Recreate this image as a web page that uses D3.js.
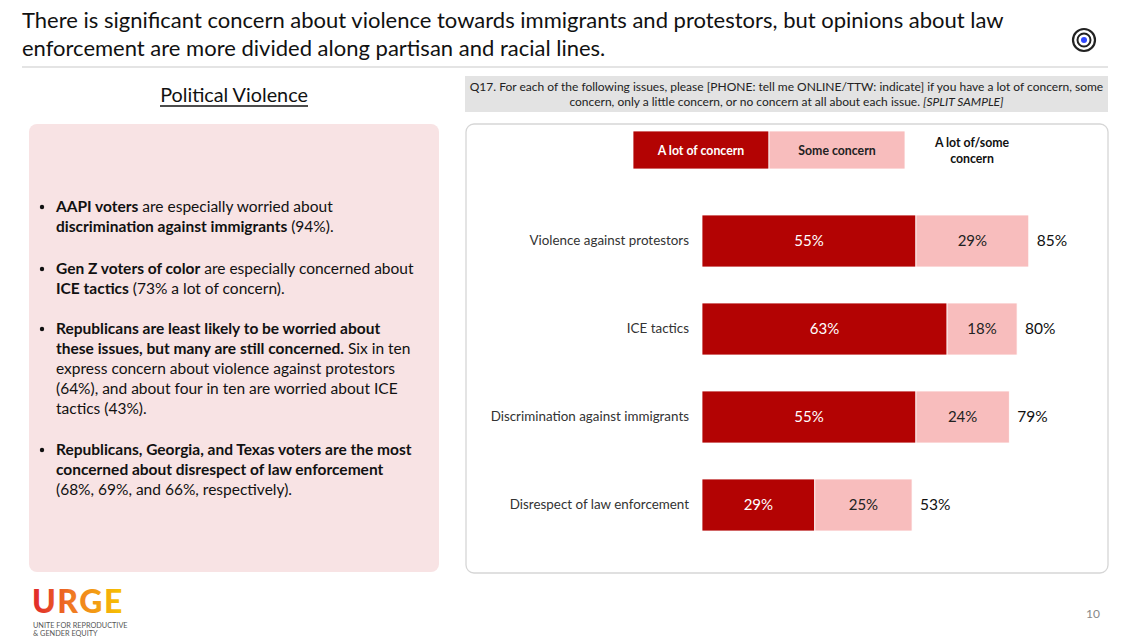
<!DOCTYPE html>
<html>
<head>
<meta charset="utf-8">
<script src="https://cdn.jsdelivr.net/npm/d3@7"></script>
<style>
  html, body { margin: 0; padding: 0; background: #fff; }
  svg { display: block; font-family: Lato, "Open Sans", sans-serif; }
</style>
</head>
<body>
<svg id="chart" width="1140" height="641"></svg>
<script>
// chart values
var categories = ['Violence against protestors', 'ICE tactics', 'Discrimination against immigrants', 'Disrespect of law enforcement']
var aLotOfConcern = [55, 63, 55, 29]
var someConcern = [29, 18, 24, 25]
var totalConcern = [85, 80, 79, 53]
var seriesNames = ['A lot of concern', 'Some concern']
var totalName = ['A lot of/some', 'concern']

var titleLines = [
	'There is significant concern about violence towards immigrants and protestors, but opinions about law',
	'enforcement are more divided along partisan and racial lines.'
]
var questionLines = [
	[['Q17. For each of the following issues, please [PHONE: tell me ONLINE/TTW: indicate] if you have a lot of concern, some', false]],
	[['concern, only a little concern, or no concern at all about each issue. ', false], ['[SPLIT SAMPLE]', true]]
]
// bullet text: each line is a list of [text, bold]
var bullets = [
	[
		[['AAPI voters', 1], [' are especially worried about', 0]],
		[['discrimination against immigrants', 1], [' (94%).', 0]]
	],
	[
		[['Gen Z voters of color', 1], [' are especially concerned about', 0]],
		[['ICE tactics', 1], [' (73% a lot of concern).', 0]]
	],
	[
		[['Republicans are least likely to be worried about', 1]],
		[['these issues, but many are still concerned.', 1], [' Six in ten', 0]],
		[['express concern about violence against protestors', 0]],
		[['(64%), and about four in ten are worried about ICE', 0]],
		[['tactics (43%).', 0]]
	],
	[
		[['Republicans, Georgia, and Texas voters are the most', 1]],
		[['concerned about disrespect of law enforcement', 1]],
		[['(68%, 69%, and 66%, respectively).', 0]]
	]
]

var darkRed = '#b30303'
var lightRed = '#f8bdbd'

var svg = d3.select('#chart')

// ---- header
var title = svg.append('g').attr('id', 'title')
titleLines.forEach((t, i) => {
	title.append('text').text(t)
		.attr('x', 22).attr('y', 28 + i * 28)
		.style('font-size', '22px').style('fill', '#111')
})
svg.append('line')
	.attr('x1', 22).attr('x2', 1108).attr('y1', 67).attr('y2', 67)
	.style('stroke', '#e4e4e4').style('stroke-width', 2)

var target = svg.append('g').attr('transform', 'translate(1084,40)')
target.append('circle').attr('r', 11).style('fill', 'none').style('stroke', '#222').style('stroke-width', 2.2)
target.append('circle').attr('r', 6.5).style('fill', 'none').style('stroke', '#222').style('stroke-width', 2)
target.append('circle').attr('r', 3).style('fill', '#3047ff')

// ---- left panel
var left = svg.append('g').attr('id', 'leftPanel')
left.append('text').text('Political Violence')
	.attr('x', 234).attr('y', 102).attr('text-anchor', 'middle')
	.style('font-size', '19.8px').style('fill', '#111')
left.append('line')
	.attr('x1', 160).attr('x2', 308).attr('y1', 106).attr('y2', 106)
	.style('stroke', '#111').style('stroke-width', 1.3)

left.append('rect')
	.attr('x', 29).attr('y', 124).attr('width', 410).attr('height', 448)
	.attr('rx', 8)
	.style('fill', '#f8e3e4')

var bulletTop = [207, 269, 329, 450]
bullets.forEach((b, bi) => {
	left.append('circle')
		.attr('cx', 42).attr('cy', bulletTop[bi]).attr('r', 2.2)
		.style('fill', '#111')
	b.forEach((line, li) => {
		var t = left.append('text')
			.attr('x', 56).attr('y', bulletTop[bi] + li * 20 + 5)
			.style('font-size', '15.5px').style('fill', '#111')
		line.forEach(seg => {
			t.append('tspan').text(seg[0])
				.style('font-weight', seg[1] ? 700 : 400)
		})
	})
})

// ---- question box
var q = svg.append('g').attr('id', 'question')
q.append('rect')
	.attr('x', 465).attr('y', 76).attr('width', 643).attr('height', 36)
	.style('fill', '#e3e3e3')
questionLines.forEach((line, i) => {
	var t = q.append('text')
		.attr('x', 786.5).attr('y', 91 + i * 15).attr('text-anchor', 'middle')
		.style('font-size', '12px').style('fill', '#222')
	line.forEach(seg => {
		t.append('tspan').text(seg[0]).style('font-style', seg[1] ? 'italic' : 'normal')
	})
})

// ---- chart panel
var panel = svg.append('g').attr('id', 'chartPanel')
panel.append('rect')
	.attr('x', 466).attr('y', 124).attr('width', 642).attr('height', 449)
	.attr('rx', 8)
	.style('fill', '#fff').style('stroke', '#d6d6d6').style('stroke-width', 1.3)

var x = d3.scaleLinear().domain([0, 100]).range([702, 1091])
var y = d3.scaleBand().domain(categories).range([197, 549])
	.paddingInner(36 / 88).paddingOuter(18 / 88)

// legend
var legend = panel.append('g').attr('id', 'legend')
var legendX = d3.scaleBand().domain(seriesNames).range([633, 905])
legend.selectAll('rect').data(seriesNames).enter().append('rect')
	.attr('x', d => legendX(d)).attr('y', 131)
	.attr('width', legendX.bandwidth()).attr('height', 38)
	.style('fill', (d, i) => i ? lightRed : darkRed)
	.style('stroke', '#fff').style('stroke-width', 0.8)
legend.selectAll('text.leg').data(seriesNames).enter().append('text')
	.attr('class', 'leg')
	.text(d => d)
	.attr('x', d => legendX(d) + legendX.bandwidth() / 2).attr('y', 155)
	.attr('text-anchor', 'middle')
	.style('font-size', '12.3px').style('font-weight', 700)
	.style('fill', (d, i) => i ? '#222' : '#fff')
totalName.forEach((t, i) => {
	legend.append('text').text(t)
		.attr('x', 972).attr('y', 147 + i * 16).attr('text-anchor', 'middle')
		.style('font-size', '12.3px').style('font-weight', 700).style('fill', '#111')
})

// bars
var rows = categories.map((c, i) => ({ cat: c, a: aLotOfConcern[i], s: someConcern[i], t: totalConcern[i] }))
var bars = panel.append('g').attr('id', 'bars')
var row = bars.selectAll('g.row').data(rows).enter().append('g').attr('class', 'row')

row.append('rect')
	.attr('x', x(0)).attr('y', d => y(d.cat))
	.attr('width', d => x(d.a) - x(0)).attr('height', y.bandwidth())
	.style('fill', darkRed).style('stroke', '#fff').style('stroke-width', 0.8)
row.append('rect')
	.attr('x', d => x(d.a)).attr('y', d => y(d.cat))
	.attr('width', d => x(d.a + d.s) - x(d.a)).attr('height', y.bandwidth())
	.style('fill', lightRed).style('stroke', '#fff').style('stroke-width', 0.8)

row.append('text').text(d => d.a + '%')
	.attr('x', d => (x(0) + x(d.a)) / 2).attr('y', d => y(d.cat) + y.bandwidth() / 2 + 5)
	.attr('text-anchor', 'middle')
	.style('font-size', '15px').style('fill', '#fff')
row.append('text').text(d => d.s + '%')
	.attr('x', d => (x(d.a) + x(d.a + d.s)) / 2).attr('y', d => y(d.cat) + y.bandwidth() / 2 + 5)
	.attr('text-anchor', 'middle')
	.style('font-size', '15px').style('fill', '#222')
row.append('text').text(d => d.t + '%')
	.attr('x', d => x(d.a + d.s) + 8).attr('y', d => y(d.cat) + y.bandwidth() / 2 + 5)
	.style('font-size', '15.5px').style('fill', '#111')
row.append('text').text(d => d.cat)
	.attr('x', 689).attr('y', d => y(d.cat) + y.bandwidth() / 2 + 4)
	.attr('text-anchor', 'end')
	.style('font-size', '13.4px').style('fill', '#333')

// ---- footer
var logo = svg.append('g').attr('id', 'logo')
var grad = svg.append('defs').append('linearGradient').attr('id', 'urgeGrad')
	.attr('x1', '0%').attr('x2', '100%')
grad.append('stop').attr('offset', '0%').style('stop-color', '#e0262a')
grad.append('stop').attr('offset', '45%').style('stop-color', '#f07b22')
grad.append('stop').attr('offset', '100%').style('stop-color', '#f7c600')
logo.append('text').text('URGE')
	.attr('x', 32).attr('y', 613)
	.style('font-size', '32px').style('font-weight', 900)
	.style('fill', 'url(#urgeGrad)').style('letter-spacing', '1.5px')
logo.append('text').text('UNITE FOR REPRODUCTIVE')
	.attr('x', 33).attr('y', 628)
	.style('font-size', '7.3px').style('fill', '#555')
logo.append('text').text('& GENDER EQUITY')
	.attr('x', 33).attr('y', 636)
	.style('font-size', '7.3px').style('fill', '#555')

svg.append('text').text('10')
	.attr('x', 1100).attr('y', 618).attr('text-anchor', 'end')
	.style('font-size', '12px').style('fill', '#888')
</script>
</body>
</html>
